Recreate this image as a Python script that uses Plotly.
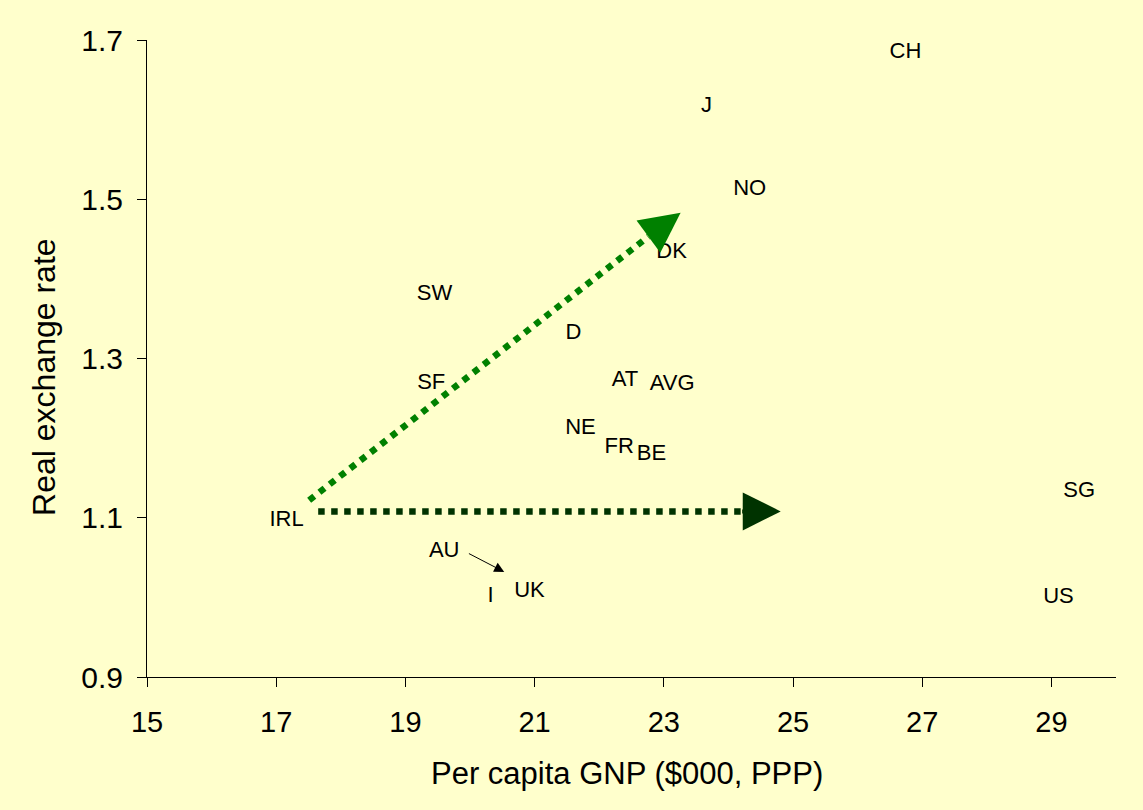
import plotly.graph_objects as go

# ---- data ----
countries = ["CH", "J", "NO", "DK", "SW", "D", "SF", "AT", "AVG", "NE",
             "FR", "BE", "IRL", "AU", "I", "UK", "SG", "US"]
gnp = [26.74, 23.66, 24.33, 23.12, 19.45, 21.60, 19.40, 22.40, 23.13, 21.71,
       22.31, 22.81, 17.16, 19.60, 20.32, 20.92, 29.43, 29.11]
rer = [1.684, 1.616, 1.512, 1.433, 1.380, 1.331, 1.268, 1.273, 1.267, 1.212,
       1.188, 1.180, 1.097, 1.058, 1.001, 1.008, 1.133, 1.000]

x_ticks = [15, 17, 19, 21, 23, 25, 27, 29]
y_ticks = [0.9, 1.1, 1.3, 1.5, 1.7]

# arrows (data coordinates)
diag_x = [17.51, 22.76]
diag_y = [1.122, 1.453]
diag_tip = (23.26, 1.483)
horiz_x = [17.65, 24.19]
horiz_y = [1.108, 1.108]
horiz_tip = (24.81, 1.108)
au_tail = (19.96, 1.056)
au_tip = (20.53, 1.032)

BG = "#FFFFCC"
GREEN = "#008000"
DKGREEN = "#003300"
FONT = "Liberation Sans, Arial, sans-serif"

fig = go.Figure()

fig.add_trace(go.Scatter(
    x=diag_x, y=diag_y, mode="lines",
    line=dict(color=GREEN, width=6.5, dash="6.5px,6.5px"),
    hoverinfo="skip", showlegend=False))
fig.add_trace(go.Scatter(
    x=horiz_x, y=horiz_y, mode="lines",
    line=dict(color=DKGREEN, width=6.5, dash="6.5px,6.5px"),
    hoverinfo="skip", showlegend=False))

fig.add_trace(go.Scatter(
    x=gnp, y=rer, mode="text", text=countries,
    textposition="middle center",
    textfont=dict(family=FONT, size=22, color="black"),
    cliponaxis=False, showlegend=False))

annotations = [
    dict(x=diag_tip[0], y=diag_tip[1], ax=diag_x[1], ay=diag_y[1],
         xref="x", yref="y", axref="x", ayref="y", text="", showarrow=True,
         arrowhead=2, arrowwidth=4, arrowsize=2, arrowcolor=GREEN),
    dict(x=horiz_tip[0], y=horiz_tip[1], ax=horiz_x[1], ay=horiz_y[1],
         xref="x", yref="y", axref="x", ayref="y", text="", showarrow=True,
         arrowhead=2, arrowwidth=4, arrowsize=1.9, arrowcolor=DKGREEN),
    dict(x=au_tip[0], y=au_tip[1], ax=au_tail[0], ay=au_tail[1],
         xref="x", yref="y", axref="x", ayref="y", text="", showarrow=True,
         arrowhead=2, arrowwidth=1, arrowsize=2, arrowcolor="black"),
    dict(text="Per capita GNP ($000, PPP)", xref="paper", yref="paper",
         x=0.4954, y=-0.1515, xanchor="center", yanchor="middle",
         showarrow=False, font=dict(family=FONT, size=31, color="black")),
    dict(text="Real exchange rate", xref="paper", yref="paper",
         x=-0.107, y=0.4716, xanchor="center", yanchor="middle", textangle=-90,
         showarrow=False, font=dict(family=FONT, size=32, color="black")),
]

fig.update_layout(
    width=1143, height=810,
    margin=dict(l=147, r=27, t=40, b=133),
    paper_bgcolor=BG, plot_bgcolor=BG,
    font=dict(family=FONT, color="black"),
    showlegend=False,
    annotations=annotations,
    xaxis=dict(range=[15, 30], tickvals=x_ticks, ticktext=[str(v) for v in x_ticks],
               showline=True, linecolor="black", linewidth=1,
               ticks="outside", ticklen=9, tickcolor="black", tickwidth=1,
               showgrid=False, zeroline=False, ticklabelstandoff=10,
               tickfont=dict(family=FONT, size=29, color="black")),
    yaxis=dict(range=[0.9, 1.7], tickvals=y_ticks, ticktext=[f"{v:.1f}" for v in y_ticks],
               showline=True, linecolor="black", linewidth=1,
               ticks="outside", ticklen=9, tickcolor="black", tickwidth=1,
               showgrid=False, zeroline=False, ticklabelstandoff=8,
               tickfont=dict(family=FONT, size=30, color="black")),
)

fig.write_html("out.html")
